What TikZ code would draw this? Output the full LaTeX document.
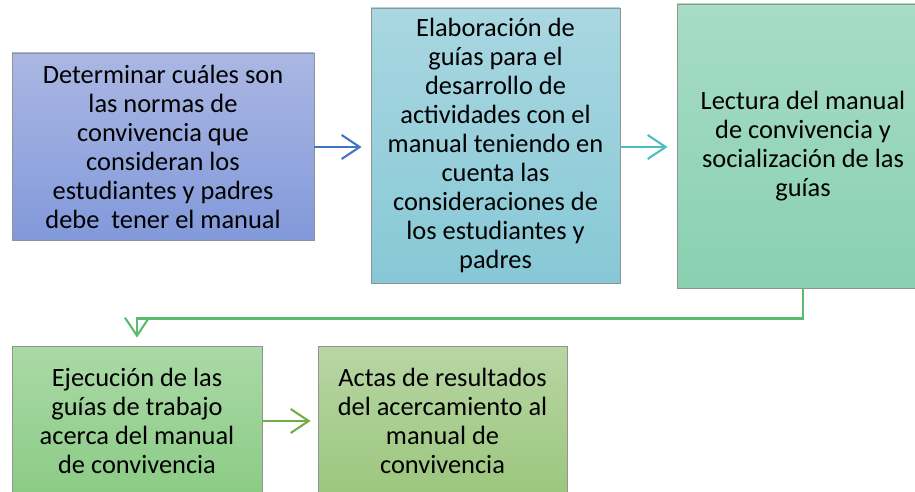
\documentclass[tikz,border=0pt]{standalone}
\usepackage{fontspec}
\setmainfont{Carlito}
\usetikzlibrary{arrows.meta}
\definecolor{bluetop}{HTML}{AAB7E3}
\definecolor{bluebot}{HTML}{8299DA}
\definecolor{cyantop}{HTML}{A9D7E1}
\definecolor{cyanbot}{HTML}{87C8D6}
\definecolor{mintop}{HTML}{A7DCC7}
\definecolor{minbot}{HTML}{89D0B0}
\definecolor{greentop}{HTML}{AAD9A6}
\definecolor{greenbot}{HTML}{8BCB85}
\definecolor{olivetop}{HTML}{B7D6A4}
\definecolor{olivebot}{HTML}{9CC67D}
\definecolor{arrblue}{HTML}{4472C4}
\definecolor{arrteal}{HTML}{4BBFBF}
\definecolor{arrgreen}{HTML}{5CBB6A}
\definecolor{arrolive}{HTML}{70AD47}
\tikzset{stepbox/.style={draw=gray!85, line width=0.6pt, align=center, inner sep=0pt,
    font=\fontsize{19.8}{21.75}\selectfont},
  flow/.style={line width=1.7pt, -{Straight Barb[length=13.5pt, width=18pt, line width=1.6pt]}}}

\begin{document}
\begin{tikzpicture}[x=0.75pt, y=-0.75pt]
  \useasboundingbox (0,0) rectangle (915,492);
  \clip (0,0) rectangle (915,492);
  \node[stepbox, top color=bluetop, bottom color=bluebot, minimum width=302*0.75pt, minimum height=187*0.75pt]
    (normas) at (163,146.5) {Determinar cuáles son\\las normas de\\convivencia que\\consideran los\\estudiantes y padres\\debe~ tener el manual};
  \node[stepbox, top color=cyantop, bottom color=cyanbot, minimum width=249*0.75pt, minimum height=275*0.75pt]
    (guias) at (495.5,145.5) {Elaboración de\\guías para el\\desarrollo de\\actividades con el\\manual teniendo en\\cuenta las\\consideraciones de\\los estudiantes y\\padres};
  \node[stepbox, top color=mintop, bottom color=minbot, minimum width=252*0.75pt, minimum height=284*0.75pt]
    (lectura) at (803,146) {Lectura del manual\\de convivencia y\\socialización de las\\guías};
  \node[stepbox, top color=greentop, bottom color=greenbot, minimum width=250*0.75pt, minimum height=150*0.75pt]
    (ejecucion) at (137,421) {Ejecución de las\\guías de trabajo\\acerca del manual\\de convivencia};
  \node[stepbox, top color=olivetop, bottom color=olivebot, minimum width=249*0.75pt, minimum height=150*0.75pt]
    (actas) at (442.5,421) {Actas de resultados\\del acercamiento al\\manual de\\convivencia};
  % connectors
  \draw[flow, arrblue, shorten >=6.75pt] (normas.east |- 0,147) -- (guias.west |- 0,147);
  \draw[flow, arrteal, shorten >=6.75pt] (guias.east |- 0,147) -- (lectura.west |- 0,147);
  \draw[flow, arrgreen, shorten >=6pt] (lectura.south) -- ++(0,30) -| (ejecucion.north);
  \draw[flow, arrolive, shorten >=5.25pt] (ejecucion.east) -- (actas.west);
\end{tikzpicture}
\end{document}
